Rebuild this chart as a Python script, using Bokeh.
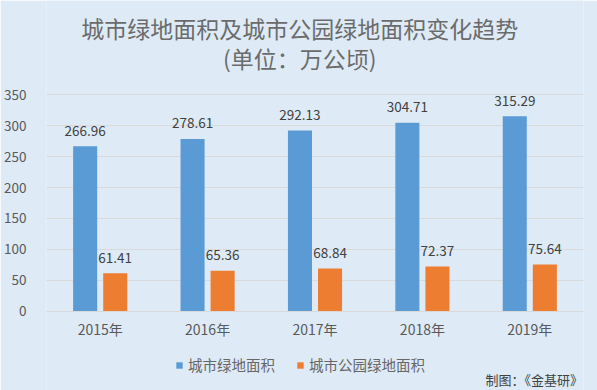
from bokeh.plotting import figure
from bokeh.models import ColumnDataSource, FactorRange, Range1d, FixedTicker, Label
from bokeh.transform import dodge
from bokeh.core.properties import value
from bokeh.embed import file_html
from bokeh.resources import INLINE

# ---- data ----
years = ["2015年", "2016年", "2017年", "2018年", "2019年"]
green_area = [266.96, 278.61, 292.13, 304.71, 315.29]
park_area = [61.41, 65.36, 68.84, 72.37, 75.64]
y_ticks = [0, 50, 100, 150, 200, 250, 300, 350]
series_names = ["城市绿地面积", "城市公园绿地面积"]
title_line1 = "城市绿地面积及城市公园绿地面积变化趋势"
title_line2 = "(单位：万公顷)"
source_note = "制图：《金基研》"

FONT = "Noto Sans CJK SC"
BG = "#DEEBF7"
BLUE = "#5B9BD5"
ORANGE = "#ED7D31"
GRID = "#D9D9D9"
TXT = "#595959"

src = ColumnDataSource(dict(
    year=years,
    green=green_area,
    park=park_area,
    green_lbl=[f"{v:.2f}" for v in green_area],
    park_lbl=[f"{v:.2f}" for v in park_area],
))

# frame spans the whole height; value axis 0..350 occupies ~216 px of it
p = figure(
    x_range=FactorRange(*years),
    y_range=Range1d(-128.3, 502.5),
    frame_width=537, frame_height=390,
    min_border_left=46, min_border_right=14,
    min_border_top=0, min_border_bottom=0,
    output_backend="svg", toolbar_location=None,
    background_fill_color=BG, border_fill_color=BG,
)
p.outline_line_color = None

OFF = 0.14
BW = 0.224
p.vbar(x=dodge("year", -OFF, range=p.x_range), top="green", bottom=0, width=BW, source=src,
       fill_color=BLUE, line_color=None, legend_label=series_names[0])
p.vbar(x=dodge("year", OFF, range=p.x_range), top="park", bottom=0, width=BW, source=src,
       fill_color=ORANGE, line_color=None, legend_label=series_names[1])

for col, lbl, off in (("green", "green_lbl", -OFF), ("park", "park_lbl", OFF)):
    p.text(x=dodge("year", off, range=p.x_range), y=col, text=lbl, source=src,
           text_align="center", text_baseline="middle", y_offset=-15.5,
           text_font=value(FONT), text_font_size="13.5px", text_color="#404040")

# axes
p.yaxis.ticker = FixedTicker(ticks=y_ticks)
p.yaxis.axis_line_color = None
p.yaxis.major_tick_line_color = None
p.yaxis.minor_tick_line_color = None
p.yaxis.major_label_standoff = 14
p.yaxis.major_label_text_font = FONT
p.yaxis.major_label_text_font_size = "13.5px"
p.yaxis.major_label_text_color = TXT

p.xaxis.fixed_location = 0
p.xaxis.axis_line_color = GRID
p.xaxis.major_tick_line_color = None
p.xaxis.minor_tick_line_color = None
p.xaxis.major_label_standoff = 2
p.xaxis.major_label_text_font = FONT
p.xaxis.major_label_text_font_size = "14px"
p.xaxis.major_label_text_color = TXT

p.xgrid.grid_line_color = None
p.ygrid.ticker = FixedTicker(ticks=y_ticks)
p.ygrid.grid_line_color = GRID

# legend
lg = p.legend[0]
lg.orientation = "horizontal"
lg.location = (129, 15)
lg.background_fill_alpha = 0
lg.border_line_color = None
lg.padding = 0
lg.margin = 0
lg.spacing = 21
lg.glyph_width = 8
lg.glyph_height = 8
lg.label_height = 8
lg.label_standoff = 5
lg.label_text_font = FONT
lg.label_text_font_size = "14.5px"
lg.label_text_color = "#666666"

# titles and note
for txt, y in ((title_line1, 458.0), (title_line2, 408.7)):
    p.add_layout(Label(x=2.358, y=y, text=txt, text_align="center", text_baseline="middle",
                       text_font=FONT, text_font_size="23px", text_color="#6B6B6B"))
p.add_layout(Label(x=4.995, y=-110.5, text=source_note, text_align="right", text_baseline="middle",
                   text_font=FONT, text_font_size="13px", text_color="#404040"))

open("out.html", "w").write(file_html(p, INLINE))
